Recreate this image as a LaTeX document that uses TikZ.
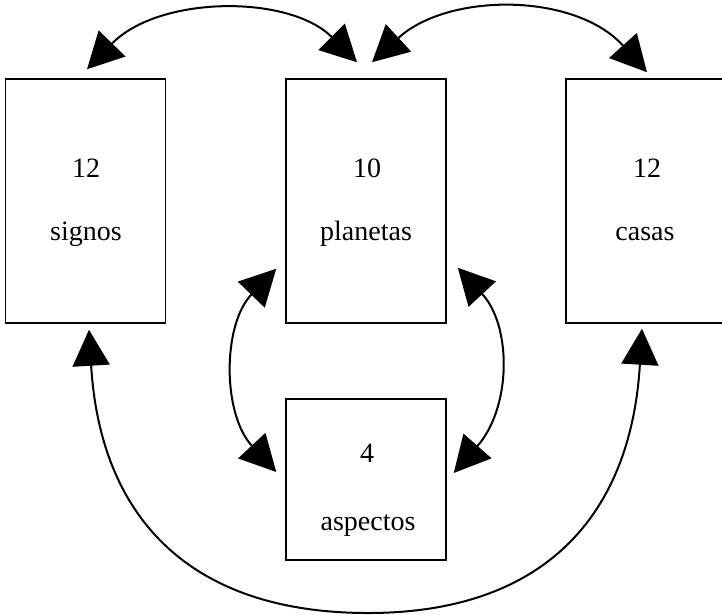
\documentclass[tikz,border=0pt]{standalone}
\usepackage{fontspec}
\setmainfont{Liberation Serif}
\usetikzlibrary{arrows.meta,calc}

\tikzset{
  box/.style={draw, line width=1.5pt, rectangle, minimum width=160pt, inner sep=0pt},
  tallbox/.style={box, minimum height=244pt},
  smallbox/.style={box, minimum height=161pt},
  lbl/.style={anchor=base, inner sep=0pt, font=\fontsize{28}{34}\selectfont},
  link/.style={line width=2pt, {Triangle[length=36pt,width=37pt]}-{Triangle[length=36pt,width=37pt]}},
}

\begin{document}
\begin{tikzpicture}[x=1pt,y=-1pt]
  \clip (0,0) rectangle (722,615);
  \fill[white] (0,0) rectangle (722,615);

  % the four boxes
  \node[tallbox]  (signos)   at (85.5,201) {};
  \node[tallbox]  (planetas) at (366,201)  {};
  \node[tallbox]  (casas)    at (646,201)  {};
  \node[smallbox] (aspectos) at (366,479.5) {};

  % box labels
  \node[lbl] (signosN)   at (86,177)  {12};
  \node[lbl] (signosT)   at (86,240)  {signos};
  \node[lbl] (planetasN) at (367,177) {10};
  \node[lbl] (planetasT) at (366,240) {planetas};
  \node[lbl] (casasN)    at (647,177) {12};
  \node[lbl] (casasT)    at (645,240) {casas};
  \node[lbl] (aspectosN) at (367,462) {4};
  \node[lbl] (aspectosT) at (368,530) {aspectos};

  % arrow end points
  \coordinate (t1)  at ($(signos.north)+(1.5,-9)$);
  \coordinate (t2)  at ($(planetas.north)+(-9,-16)$);
  \coordinate (t3)  at ($(planetas.north)+(6,-16)$);
  \coordinate (t4)  at ($(casas.north)+(1,-6)$);
  \coordinate (t5)  at ($(planetas.south west)+(-9,-55)$);
  \coordinate (t6)  at ($(aspectos.west)+(-9,-7.5)$);
  \coordinate (t7)  at ($(planetas.south east)+(11,-56)$);
  \coordinate (t8)  at ($(aspectos.east)+(7,-6.5)$);
  \coordinate (t9)  at ($(signos.south)+(3.5,6)$);
  \coordinate (t10) at ($(casas.south)+(-4,5)$);
  \coordinate (bot) at (368,613);

  % signos <-> planetas
  \draw[link] (t1) .. controls +(72,-74) and +(-68,-68) .. (t2);
  % planetas <-> casas
  \draw[link] (t3) .. controls +(76,-70) and +(-72,-80) .. (t4);
  % planetas <-> aspectos, left side
  \draw[link] (t5) .. controls +(-54,56) and +(-54,-58) .. (t6);
  % planetas <-> aspectos, right side
  \draw[link] (t7) .. controls +(54,58) and +(58,-66) .. (t8);
  % signos <-> casas, under everything
  \draw[link] (t9) .. controls +(11,184) and +(-182,0) .. (bot)
                   .. controls +(178,0) and +(-11,185) .. (t10);
\end{tikzpicture}
\end{document}
